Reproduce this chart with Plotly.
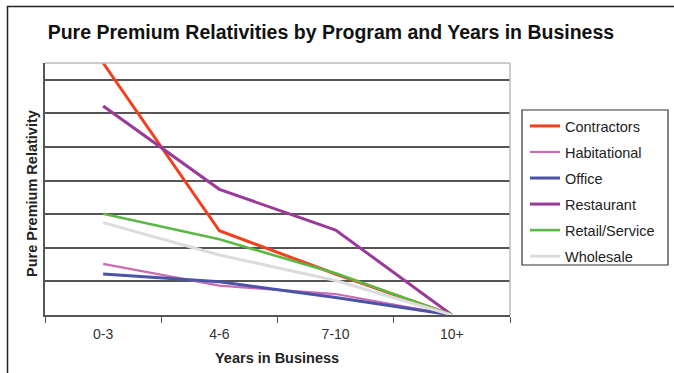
import plotly.graph_objects as go

categories = ["0-3", "4-6", "7-10", "10+"]
contractors = [2.875, 1.627, 1.305, 1.0]
habitational = [1.380, 1.218, 1.156, 1.0]
office = [1.305, 1.248, 1.130, 1.0]
restaurant = [2.555, 1.935, 1.632, 1.0]
retail_service = [1.754, 1.563, 1.310, 1.0]
wholesale = [1.687, 1.446, 1.257, 1.0]

series = [
    ("Contractors", contractors, "#F23F1E", 3),
    ("Habitational", habitational, "#CC6AB2", 2.2),
    ("Office", office, "#4A53A6", 3),
    ("Restaurant", restaurant, "#993A98", 3),
    ("Retail/Service", retail_service, "#5BB844", 2.6),
    ("Wholesale", wholesale, "#DCDCDC", 3),
]

fig = go.Figure()
for i, (name, vals, color, w) in enumerate(series):
    fig.add_trace(go.Scatter(
        x=categories, y=vals, mode="lines", name=name,
        line=dict(color=color, width=w),
        legendgroup=f"g{i}", cliponaxis=True,
    ))

font = "Liberation Sans, Arial, sans-serif"
PW, PH = 465, 252  # plot area size in px


def px_x(x):
    return (x - 45) / PW


def px_y(y):
    return (315 - y) / PH


fig.update_layout(
    width=674, height=373,
    margin=dict(l=45, r=164, t=63, b=58, autoexpand=False),
    paper_bgcolor="white", plot_bgcolor="white",
    title=dict(text="<b>Pure Premium Relativities by Program and Years in Business</b>",
               x=0.491, xanchor="center", y=0.915, yanchor="middle",
               font=dict(family=font, size=19.5, color="#111111")),
    font=dict(family=font, size=12, color="#222222"),
    legend=dict(x=px_x(525), xanchor="left", y=px_y(110), yanchor="top",
                borderwidth=0, bgcolor="rgba(0,0,0,0)",
                font=dict(family=font, size=14.5, color="#222222"),
                tracegroupgap=4.2, itemwidth=30,
                traceorder="grouped"),
    xaxis=dict(
        type="category", range=[-0.5, 3.5], automargin=False,
        showgrid=False, showline=True, linecolor="#555555", linewidth=1.5,
        ticks="outside", tickson="boundaries", ticklen=6, tickcolor="#555555",
        ticklabelstandoff=5,
        tickfont=dict(family=font, size=14, color="#333333"),
    ),
    yaxis=dict(
        range=[1.0, 2.875], dtick=0.25, tick0=1.0, automargin=False,
        showgrid=True, gridcolor="#555555", gridwidth=1.5,
        showline=True, linecolor="#555555", linewidth=1.5,
        showticklabels=False, ticks="", zeroline=False,
    ),
    annotations=[
        dict(text="<b>Years in Business</b>", xref="paper", yref="paper",
             x=px_x(277), y=px_y(358), xanchor="center", yanchor="middle",
             showarrow=False, font=dict(family=font, size=14.5, color="#222222")),
        dict(text="<b>Pure Premium Relativity</b>", xref="paper", yref="paper",
             x=px_x(32), y=px_y(194), xanchor="center", yanchor="middle",
             textangle=-90, showarrow=False,
             font=dict(family=font, size=14.5, color="#222222")),
    ],
    shapes=[
        dict(type="line", xref="paper", yref="paper", x0=0, x1=1, y0=1, y1=1,
             line=dict(color="#BBBBBB", width=1.5)),
        dict(type="line", xref="paper", yref="paper", x0=1, x1=1, y0=0, y1=1,
             line=dict(color="#BBBBBB", width=1.5)),
        dict(type="rect", xref="paper", yref="paper",
             x0=px_x(522), x1=px_x(668), y0=px_y(265), y1=px_y(110),
             line=dict(color="#333333", width=1.2)),
        dict(type="rect", xref="paper", yref="paper",
             x0=px_x(7.5), x1=px_x(700), y0=px_y(400), y1=px_y(6.5),
             line=dict(color="#222222", width=1.5), layer="below"),
    ],
)

fig.write_html("out.html", config={"displayModeBar": False},
               post_script="document.body.style.margin='0px';")
